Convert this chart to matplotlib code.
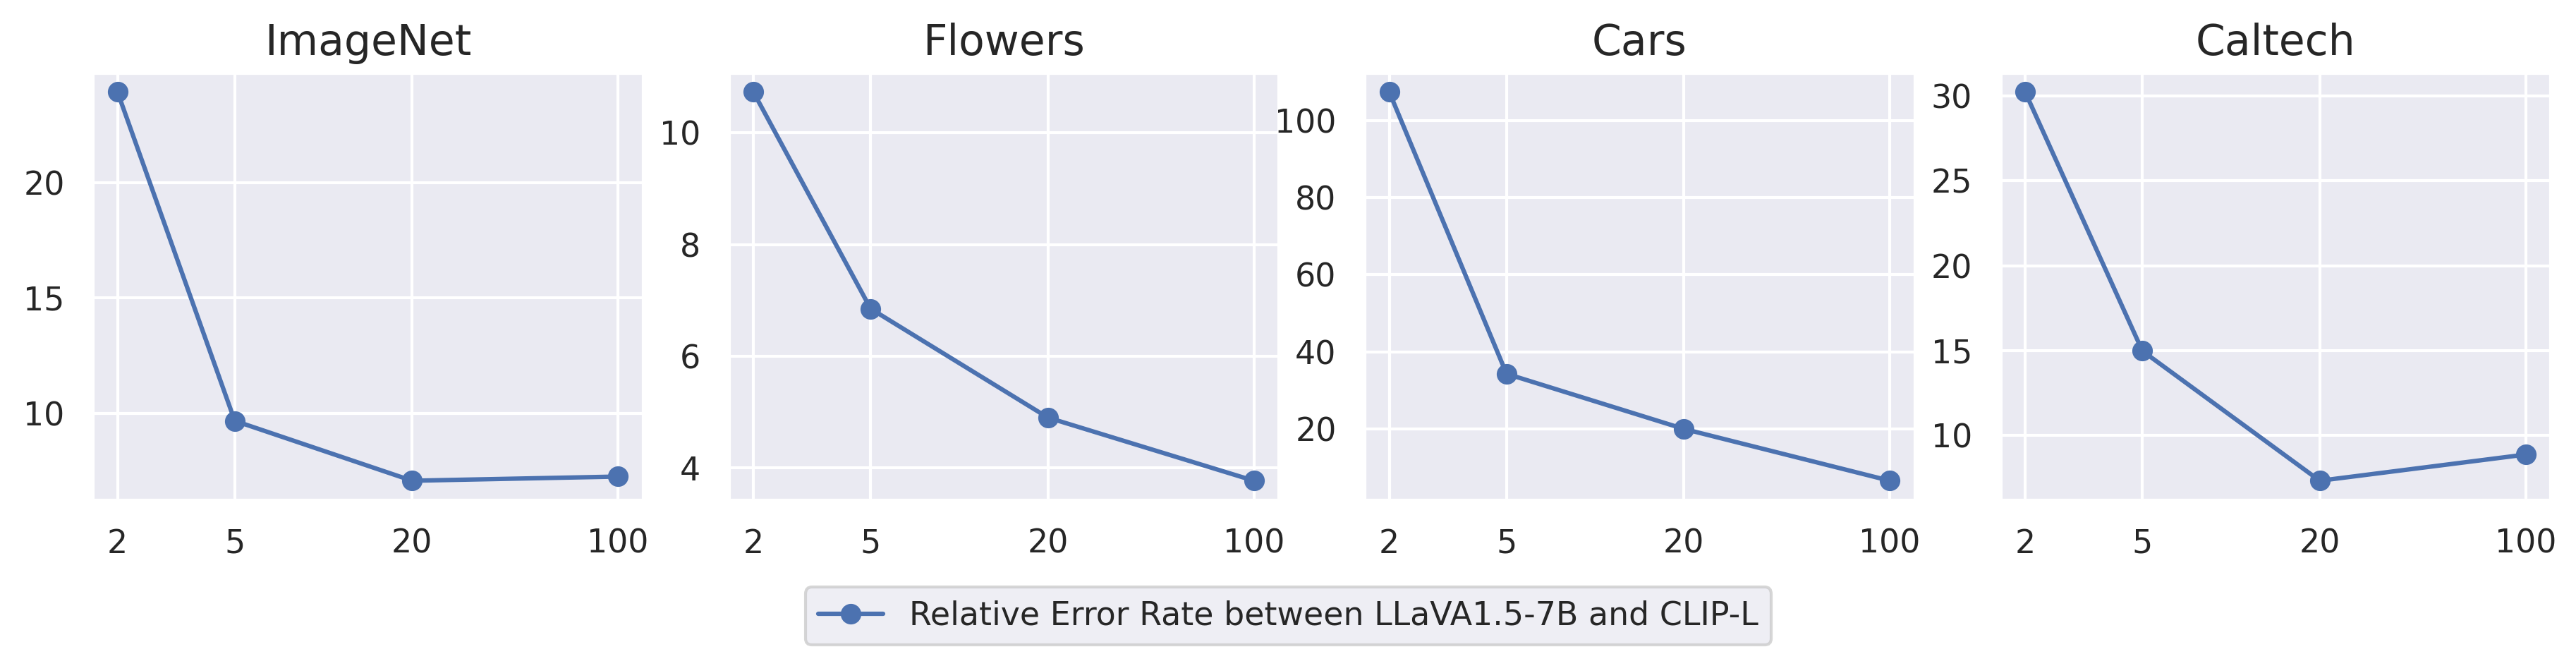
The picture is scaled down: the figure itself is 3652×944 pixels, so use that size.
import matplotlib
matplotlib.use("Agg")
import matplotlib.pyplot as plt
import seaborn as sns
from matplotlib.ticker import NullLocator

sns.set_theme(style="darkgrid", context="notebook")
plt.rcParams['font.family'] = ['DejaVu Sans']

ks = [2, 5, 20, 100]
k_labels = ["2", "5", "20", "100"]
titles = ["ImageNet", "Flowers", "Cars", "Caltech"]

imagenet = [23.91, 9.69, 7.10, 7.28]
flowers = [10.73, 6.85, 4.90, 3.77]
cars = [107.4, 34.3, 20.0, 6.56]
caltech = [30.22, 14.98, 7.34, 8.88]

yticks_imagenet = [10, 15, 20]
yticks_flowers = [4, 6, 8, 10]
yticks_cars = [20, 40, 60, 80, 100]
yticks_caltech = [10, 15, 20, 25, 30]

series = [imagenet, flowers, cars, caltech]
yticks = [yticks_imagenet, yticks_flowers, yticks_cars, yticks_caltech]
label = "Relative Error Rate between LLaVA1.5-7B and CLIP-L"

fig, axes = plt.subplots(1, 4, figsize=(3653 / 300, 944 / 300), dpi=300)
fig.subplots_adjust(left=0.0359, right=0.9899, top=0.891, bottom=0.249, wspace=0.155)

handle = None
for ax, title, vals, yt in zip(axes, titles, series, yticks):
    line, = ax.plot(ks, vals, marker="o", color="#4C72B0", label=label)
    handle = line
    ax.set_xscale("log")
    ax.set_xticks(ks)
    ax.set_xticklabels(k_labels)
    ax.xaxis.set_minor_locator(NullLocator())
    ax.set_yticks(yt)
    ax.set_title(title, fontsize=14.4)
    ax.tick_params(labelsize=11)

fig.legend([handle], [label], loc="center", bbox_to_anchor=(0.5, 0.075), fontsize=11)
fig.savefig("out.png", dpi=300)
